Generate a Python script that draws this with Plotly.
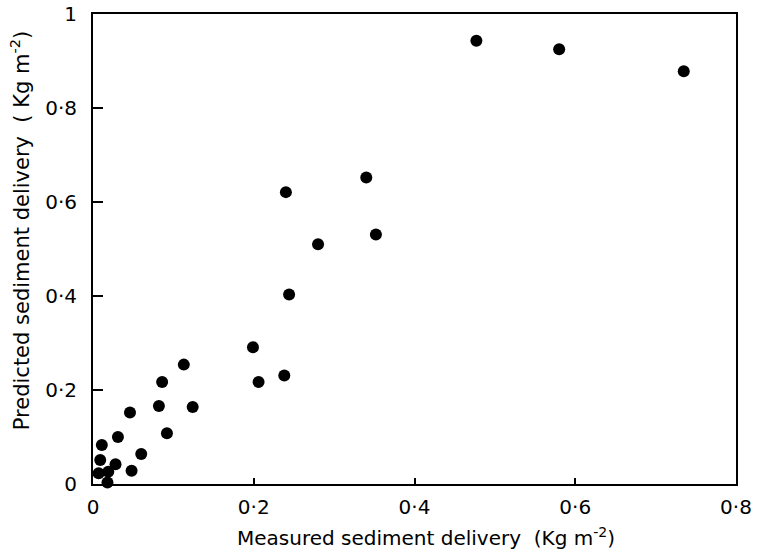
import plotly.graph_objects as go

measured = [0.477, 0.580, 0.735, 0.340, 0.240, 0.352, 0.280, 0.244, 0.199, 0.238,
            0.206, 0.113, 0.086, 0.082, 0.124, 0.046, 0.092, 0.031, 0.011, 0.060,
            0.009, 0.028, 0.048, 0.007, 0.019, 0.018]
predicted = [0.943, 0.925, 0.878, 0.652, 0.621, 0.531, 0.510, 0.403, 0.291, 0.231,
             0.217, 0.254, 0.217, 0.166, 0.164, 0.152, 0.108, 0.100, 0.083, 0.064,
             0.051, 0.042, 0.028, 0.023, 0.026, 0.003]

x_tickvals = [0, 0.2, 0.4, 0.6, 0.8]
x_ticktext = ["0", "0·2", "0·4", "0·6", "0·8"]
y_tickvals = [0, 0.2, 0.4, 0.6, 0.8, 1.0]
y_ticktext = ["0", "0·2", "0·4", "0·6", "0·8", "1"]
x_title = "Measured sediment delivery\u00a0\u00a0(Kg m<sup>-2</sup>)"
y_title = "Predicted sediment delivery\u00a0\u00a0(\u00a0Kg m<sup>-2</sup>)"

FONT = "DejaVu Sans"

fig = go.Figure()
fig.add_trace(go.Scatter(
    x=measured, y=predicted, mode="markers",
    marker=dict(color="black", size=12, symbol="circle", line=dict(width=0)),
    cliponaxis=False, showlegend=False, hoverinfo="skip",
))

fig.update_layout(
    width=757, height=554,
    margin=dict(l=93, r=21, t=14, b=70),
    paper_bgcolor="white", plot_bgcolor="white",
    font=dict(family=FONT, size=20, color="black"),
)
fig.update_xaxes(
    range=[0, 0.8], tickvals=x_tickvals, ticktext=x_ticktext,
    showgrid=False, zeroline=False, automargin=False,
    showline=True, linecolor="black", linewidth=1.8, mirror=True,
    ticks="inside", ticklen=6, tickwidth=2, tickcolor="black",
    tickfont=dict(size=20, family=FONT), ticklabelstandoff=4,
)
fig.update_yaxes(
    range=[0, 1.0], tickvals=y_tickvals, ticktext=y_ticktext,
    showgrid=False, zeroline=False, automargin=False,
    showline=True, linecolor="black", linewidth=1.8, mirror=True,
    ticks="inside", ticklen=10, tickwidth=2, tickcolor="black",
    tickfont=dict(size=20, family=FONT), ticklabelstandoff=10,
)
fig.add_annotation(
    text=x_title, xref="paper", yref="paper", x=0.518, y=-0.113,
    xanchor="center", yanchor="middle", showarrow=False,
    font=dict(size=20, family=FONT, color="black"),
)
fig.add_annotation(
    text=y_title, xref="paper", yref="paper", x=-0.1135, y=0.54,
    xanchor="center", yanchor="middle", textangle=-90, showarrow=False,
    font=dict(size=21, family=FONT, color="black"),
)

fig.write_html("out.html", config={"displayModeBar": False},
               post_script="document.body.style.margin='0';")
